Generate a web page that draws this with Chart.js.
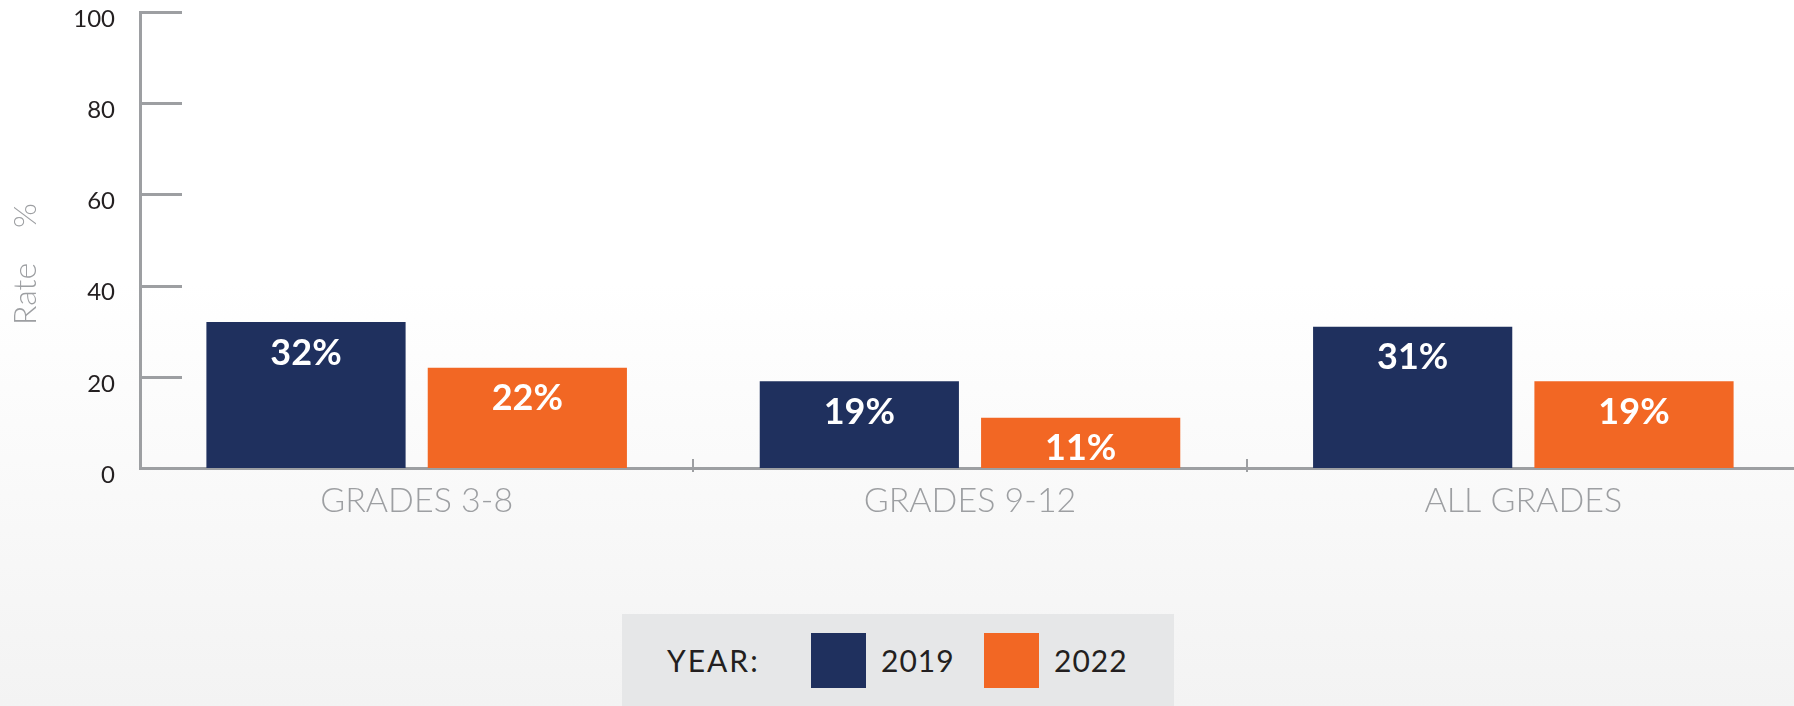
<!DOCTYPE html>
<html>
<head>
<meta charset="utf-8">
<script src="https://cdn.jsdelivr.net/npm/chart.js@4.4.0/dist/chart.umd.min.js"></script>
<style>
  html, body { margin: 0; padding: 0; }
  body {
    width: 1794px; height: 706px; overflow: hidden;
    background: linear-gradient(to bottom, #ffffff 0%, #ffffff 40%, #f3f3f3 100%);
    font-family: Lato, sans-serif;
  }
  #wrap { position: relative; width: 1794px; height: 706px; overflow: hidden; }
  #legend {
    position: absolute; left: 622px; top: 614px; width: 552px; height: 92px;
    background: #e6e7e8; display: flex; align-items: center;
    box-sizing: border-box; padding-left: 45px; color: #231f20;
    font: 400 30px Lato, sans-serif;
  }
  #legend .title { width: 144px; letter-spacing: 2px; }
  #legend .swatch { width: 55px; height: 55px; margin-right: 15px; }
  #legend .label { width: 103px; letter-spacing: 1px; }
</style>
</head>
<body>
<div id="wrap">
  <canvas id="rateChart" width="1800" height="706"></canvas>
  <div id="legend"><span class="title">YEAR:</span></div>
</div>
<script>
// chart values
const categories = ['GRADES 3-8', 'GRADES 9-12', 'ALL GRADES'];
const years = ['2019', '2022'];
const rate2019 = [32, 19, 31];
const rate2022 = [22, 11, 19];
const yTicks = [0, 20, 40, 60, 80, 100];
const colors = ['#1f305e', '#f26724'];
const axisGrey = '#9d9fa2';

// short y tick marks, category separators and the axis title
const axisMarks = {
  id: 'axisMarks',
  afterDraw(chart) {
    const { ctx, chartArea, scales: { x, y } } = chart;
    ctx.save();
    ctx.strokeStyle = axisGrey;
    ctx.lineWidth = 3;
    y.ticks.forEach(t => {
      const py = Math.round(y.getPixelForValue(t.value)) + 0.5;
      ctx.beginPath();
      ctx.moveTo(chartArea.left, py);
      ctx.lineTo(chartArea.left + 42, py);
      ctx.stroke();
    });
    ctx.lineWidth = 2;
    for (let i = 1; i < categories.length; i++) {
      const px = Math.round((x.getPixelForValue(i - 1) + x.getPixelForValue(i)) / 2);
      ctx.beginPath();
      ctx.moveTo(px, chartArea.bottom - 9);
      ctx.lineTo(px, chartArea.bottom + 4);
      ctx.stroke();
    }
    ctx.fillStyle = axisGrey;
    ctx.font = '300 32px Lato';
    ctx.textAlign = 'center';
    ctx.textBaseline = 'middle';
    ctx.translate(26, (chartArea.top + chartArea.bottom) / 2 + 24);
    ctx.rotate(-Math.PI / 2);
    ctx.fillText('Rate    %', 0, 0);
    ctx.restore();
  }
};

// white value labels inside the bars
const barLabels = {
  id: 'barLabels',
  afterDatasetsDraw(chart) {
    const { ctx } = chart;
    ctx.save();
    ctx.fillStyle = '#ffffff';
    ctx.font = 'bold 36px Lato';
    ctx.textAlign = 'center';
    ctx.textBaseline = 'middle';
    chart.data.datasets.forEach((ds, i) => {
      chart.getDatasetMeta(i).data.forEach((bar, j) => {
        ctx.fillText(ds.data[j] + '%', bar.x, bar.y + 31);
      });
    });
    ctx.restore();
  }
};

const ctx = document.getElementById('rateChart').getContext('2d');
const chart = new Chart(ctx, {
  type: 'bar',
  data: {
    labels: categories,
    datasets: [
      { label: years[0], data: rate2019, backgroundColor: colors[0] },
      { label: years[1], data: rate2022, backgroundColor: colors[1] }
    ]
  },
  options: {
    responsive: false,
    animation: false,
    devicePixelRatio: 1,
    layout: { padding: { top: 12, right: 0, left: 0, bottom: 0 } },
    plugins: { legend: { display: false }, tooltip: { enabled: false } },
    scales: {
      x: {
        grid: { display: false, drawTicks: false },
        border: { display: true, color: axisGrey, width: 3 },
        ticks: { color: axisGrey, padding: 13, font: { family: 'Lato', size: 34, weight: '300' } },
        afterFit(scale) {
          scale.height = 238;
          scale.paddingLeft = 0;
          scale.paddingRight = 0;
        }
      },
      y: {
        min: 0,
        max: 100,
        grid: { display: false, drawTicks: false },
        border: { display: true, color: axisGrey, width: 3 },
        afterBuildTicks(scale) {
          scale.ticks = yTicks.map(v => ({ value: v }));
        },
        ticks: {
          color: '#231f20', padding: 25, labelOffset: 7,
          font: { family: 'Lato', size: 24 }
        },
        afterFit(scale) {
          scale.width = 140;
          scale.paddingTop = 0;
          scale.paddingBottom = 0;
        }
      }
    }
  },
  plugins: [axisMarks, barLabels]
});

// html legend built from the datasets
const legend = document.getElementById('legend');
chart.data.datasets.forEach(ds => {
  const sw = document.createElement('span');
  sw.className = 'swatch';
  sw.style.background = ds.backgroundColor;
  const lb = document.createElement('span');
  lb.className = 'label';
  lb.textContent = ds.label;
  legend.appendChild(sw);
  legend.appendChild(lb);
});
</script>
</body>
</html>
